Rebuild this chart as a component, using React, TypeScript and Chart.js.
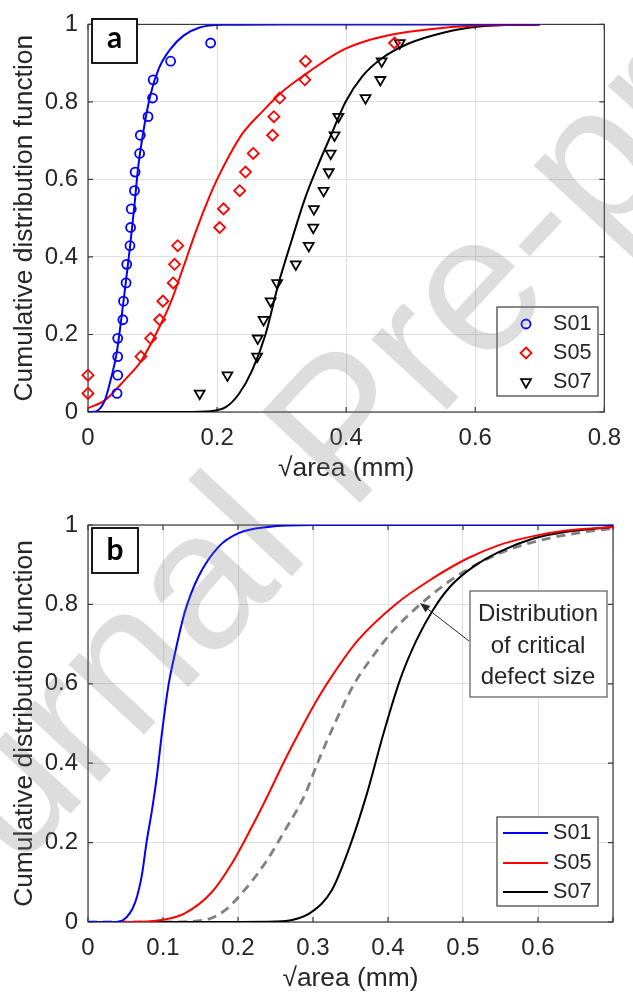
import React, { useEffect, useRef } from 'react';
import { Chart, registerables } from 'chart.js';

Chart.register(...registerables);

const FONT = '"Liberation Sans", Arial, Helvetica, sans-serif';
const TEXT = '#262626';
const GRID = '#dedede';
const FRAME = '#3a3a3a';

// ---------- Panel a : empirical points (plotting positions) ----------
const RANK_Y = [0.048, 0.095, 0.143, 0.19, 0.238, 0.286, 0.333, 0.381, 0.429, 0.476, 0.524, 0.571, 0.619, 0.667, 0.714, 0.762, 0.81, 0.857, 0.905, 0.952];
const S01_PTS_X = [0.045, 0.046, 0.046, 0.046, 0.054, 0.055, 0.059, 0.06, 0.065, 0.066, 0.067, 0.072, 0.073, 0.08, 0.081, 0.093, 0.1, 0.101, 0.128, 0.19];
const S05_PTS_X = [0.0, 0.0, 0.082, 0.097, 0.111, 0.116, 0.132, 0.134, 0.139, 0.204, 0.21, 0.235, 0.244, 0.256, 0.286, 0.288, 0.297, 0.336, 0.337, 0.475];
const S07_PTS_X = [0.173, 0.216, 0.262, 0.263, 0.272, 0.283, 0.293, 0.322, 0.342, 0.349, 0.35, 0.365, 0.373, 0.376, 0.382, 0.388, 0.43, 0.453, 0.455, 0.483];

// ---------- Panel a : fitted curves ----------
const A_S01_X = [0, 0.011, 0.026, 0.036, 0.044, 0.051, 0.059, 0.065, 0.072, 0.078, 0.087, 0.097, 0.11, 0.128, 0.148, 0.173, 0.209, 0.3, 0.5, 0.7];
const A_S01_Y = [0, 0.001, 0.03, 0.089, 0.148, 0.232, 0.341, 0.425, 0.534, 0.635, 0.736, 0.82, 0.887, 0.937, 0.971, 0.992, 0.999, 1, 1, 1];
const A_S05_X = [0, 0.026, 0.056, 0.082, 0.107, 0.128, 0.148, 0.168, 0.188, 0.2, 0.22, 0.24, 0.27, 0.3, 0.34, 0.39, 0.425, 0.475, 0.526, 0.602, 0.7];
const A_S05_Y = [0.01, 0.03, 0.081, 0.131, 0.207, 0.282, 0.375, 0.47, 0.555, 0.6, 0.665, 0.72, 0.775, 0.825, 0.875, 0.93, 0.954, 0.975, 0.987, 0.997, 1];
const A_S07_X = [0, 0.15, 0.19, 0.214, 0.234, 0.254, 0.275, 0.295, 0.315, 0.336, 0.356, 0.378, 0.399, 0.425, 0.455, 0.496, 0.552, 0.602, 0.7];
const A_S07_Y = [0, 0, 0.002, 0.013, 0.047, 0.106, 0.2, 0.33, 0.44, 0.55, 0.635, 0.72, 0.8, 0.866, 0.912, 0.95, 0.979, 0.994, 1];

// ---------- Panel b : curves ----------
const B_S01_X = [0, 0.035, 0.047, 0.063, 0.072, 0.078, 0.086, 0.092, 0.098, 0.107, 0.116, 0.129, 0.147, 0.174, 0.2, 0.24, 0.3, 0.7];
const B_S01_Y = [0, 0, 0.005, 0.05, 0.12, 0.2, 0.29, 0.37, 0.467, 0.593, 0.677, 0.78, 0.869, 0.945, 0.979, 0.995, 1, 1];
const B_S05_X = [0, 0.06, 0.098, 0.129, 0.165, 0.192, 0.218, 0.24, 0.263, 0.285, 0.307, 0.329, 0.36, 0.41, 0.46, 0.505, 0.549, 0.594, 0.638, 0.7];
const B_S05_Y = [0, 0, 0.005, 0.022, 0.075, 0.148, 0.238, 0.32, 0.41, 0.49, 0.565, 0.63, 0.71, 0.8, 0.866, 0.915, 0.95, 0.972, 0.986, 0.995];
const B_S07_X = [0, 0.2, 0.25, 0.272, 0.298, 0.325, 0.349, 0.372, 0.394, 0.416, 0.438, 0.46, 0.483, 0.514, 0.549, 0.594, 0.638, 0.7];
const B_S07_Y = [0, 0, 0.001, 0.005, 0.025, 0.08, 0.19, 0.324, 0.475, 0.61, 0.71, 0.786, 0.845, 0.895, 0.933, 0.966, 0.983, 0.995];
const B_CRIT_X = [0, 0.1, 0.156, 0.183, 0.209, 0.236, 0.263, 0.289, 0.307, 0.329, 0.355, 0.38, 0.405, 0.443, 0.483, 0.527, 0.572, 0.616, 0.66, 0.7];
const B_CRIT_Y = [0, 0, 0.005, 0.03, 0.081, 0.148, 0.232, 0.32, 0.405, 0.5, 0.6, 0.67, 0.73, 0.8, 0.86, 0.91, 0.945, 0.967, 0.982, 0.991];

const SERIES_NAMES = ['S01', 'S05', 'S07'];
const SERIES_COLORS = ['#0000ff', '#ff0000', '#000000'];
const X_TITLE = '√area (mm)';
const Y_TITLE = 'Cumulative distribution function';
const ANNOTATION_LINES = ['Distribution', 'of critical', 'defect size'];
const WATERMARK = 'Journal Pre-proof';

const pairs = (xs: number[], ys: number[]) => xs.map((x, i) => ({ x, y: ys[i] }));
const fmt = (v: number) => String(Math.round(v * 10) / 10);

function makeScales(xMax: number, xStep: number, xHeight: number, xTitleBottom: number, hideLast: boolean) {
  return {
    x: {
      type: 'linear',
      min: 0,
      max: xMax,
      afterFit: (s: any) => { s.height = xHeight; },
      ticks: {
        stepSize: xStep,
        autoSkip: false,
        maxRotation: 0,
        padding: 12,
        color: TEXT,
        font: { family: FONT, size: 24 },
        callback: (v: number) => (hideLast && v > xMax - 1e-6 ? '' : fmt(v)),
      },
      grid: { color: GRID, lineWidth: 1, drawTicks: false },
      border: { display: false },
      title: { display: true, text: X_TITLE, color: TEXT, font: { family: FONT, size: 26.4 }, padding: { top: 0, bottom: xTitleBottom } },
    },
    y: {
      type: 'linear',
      min: 0,
      max: 1,
      afterFit: (s: any) => { s.width = 88; },
      ticks: { stepSize: 0.2, padding: 10, color: TEXT, font: { family: FONT, size: 24 }, callback: (v: number) => fmt(v) },
      grid: { color: GRID, lineWidth: 1, drawTicks: false },
      border: { display: false },
      title: { display: true, text: Y_TITLE, color: TEXT, font: { family: FONT, size: 26.4 }, padding: { top: 8.4, bottom: 0 } },
    },
  };
}

const framePlugin = {
  id: 'frame',
  beforeDatasetsDraw(chart: any) {
    const { ctx, chartArea: ca, scales } = chart;
    const x = scales.x, y = scales.y;
    const tl = 5;
    ctx.save();
    ctx.strokeStyle = FRAME;
    ctx.lineWidth = 1.2;
    ctx.beginPath();
    x.ticks.forEach((t: any) => {
      const p = x.getPixelForValue(t.value);
      ctx.moveTo(p, ca.bottom); ctx.lineTo(p, ca.bottom - tl);
      ctx.moveTo(p, ca.top); ctx.lineTo(p, ca.top + tl);
    });
    y.ticks.forEach((t: any) => {
      const p = y.getPixelForValue(t.value);
      ctx.moveTo(ca.left, p); ctx.lineTo(ca.left + tl, p);
      ctx.moveTo(ca.right, p); ctx.lineTo(ca.right - tl, p);
    });
    ctx.stroke();
    ctx.strokeRect(ca.left, ca.top, ca.right - ca.left, ca.bottom - ca.top);
    ctx.restore();
  },
};

function drawMarker(ctx: CanvasRenderingContext2D, style: string, x: number, y: number, color: string) {
  ctx.save();
  ctx.strokeStyle = color;
  ctx.lineWidth = 1.8;
  ctx.beginPath();
  if (style === 'circle') {
    ctx.arc(x, y, 4.5, 0, Math.PI * 2);
  } else if (style === 'diamond') {
    ctx.moveTo(x, y - 5.5); ctx.lineTo(x + 5.5, y); ctx.lineTo(x, y + 5.5); ctx.lineTo(x - 5.5, y); ctx.closePath();
  } else {
    const r = 5.7;
    ctx.moveTo(x, y + r); ctx.lineTo(x + r * 0.866, y - r / 2); ctx.lineTo(x - r * 0.866, y - r / 2); ctx.closePath();
  }
  ctx.stroke();
  ctx.restore();
}

function makeOverlay(opts: any) {
  return {
    id: 'overlay',
    afterDraw(chart: any) {
      const ctx: CanvasRenderingContext2D = chart.ctx;
      ctx.save();
      // panel letter
      const lb = opts.letterBox;
      ctx.fillStyle = '#fff';
      ctx.fillRect(lb[0], lb[1], lb[2], lb[3]);
      ctx.strokeStyle = '#000';
      ctx.lineWidth = 1.8;
      ctx.strokeRect(lb[0], lb[1], lb[2], lb[3]);
      ctx.fillStyle = '#000';
      ctx.font = `bold 30px Lato, "Open Sans", ${FONT}`;
      ctx.textAlign = 'center';
      ctx.textBaseline = 'alphabetic';
      ctx.fillText(opts.letter, lb[0] + lb[2] / 2, opts.letterBaseline);

      // legend
      const L = opts.legend;
      ctx.fillStyle = '#fff';
      ctx.fillRect(L.x, L.y, L.w, L.h);
      ctx.strokeStyle = FRAME;
      ctx.lineWidth = 1.2;
      ctx.strokeRect(L.x, L.y, L.w, L.h);
      SERIES_NAMES.forEach((name, i) => {
        const cy = L.rows[i];
        if (opts.legendKind === 'marker') {
          drawMarker(ctx, ['circle', 'diamond', 'triangle'][i], 526, cy, SERIES_COLORS[i]);
        } else {
          ctx.strokeStyle = SERIES_COLORS[i];
          ctx.lineWidth = 2;
          ctx.beginPath(); ctx.moveTo(503, cy); ctx.lineTo(548, cy); ctx.stroke();
        }
        ctx.fillStyle = TEXT;
        ctx.font = `21.6px ${FONT}`;
        ctx.textAlign = 'left';
        ctx.textBaseline = 'middle';
        ctx.fillText(name, 553, cy);
      });

      // annotation (panel b)
      if (opts.annotation) {
        const A = opts.annotation;
        ctx.strokeStyle = TEXT;
        ctx.fillStyle = TEXT;
        ctx.lineWidth = 1;
        const ang = Math.atan2(A.tip[1] - A.tail[1], A.tip[0] - A.tail[0]);
        const hl = 10, hw = 4;
        const bx = A.tip[0] - hl * Math.cos(ang), by = A.tip[1] - hl * Math.sin(ang);
        ctx.beginPath(); ctx.moveTo(A.tail[0], A.tail[1]); ctx.lineTo(bx, by); ctx.stroke();
        ctx.beginPath();
        ctx.moveTo(A.tip[0], A.tip[1]);
        ctx.lineTo(bx + hw * Math.sin(ang), by - hw * Math.cos(ang));
        ctx.lineTo(bx - hw * Math.sin(ang), by + hw * Math.cos(ang));
        ctx.closePath(); ctx.fill();
        ctx.fillStyle = '#fff';
        ctx.fillRect(A.box[0], A.box[1], A.box[2], A.box[3]);
        ctx.strokeStyle = '#5a5a5a';
        ctx.lineWidth = 1.2;
        ctx.strokeRect(A.box[0], A.box[1], A.box[2], A.box[3]);
        ctx.fillStyle = TEXT;
        ctx.font = `24px ${FONT}`;
        ctx.textAlign = 'center';
        ctx.textBaseline = 'alphabetic';
        ANNOTATION_LINES.forEach((t, i) => ctx.fillText(t, A.textX, A.baselines[i]));
      }

      // watermark (spans both panels, global page coordinates)
      ctx.translate(0, -opts.pageOffset);
      ctx.translate(-124, 1022);
      ctx.rotate((-47 * Math.PI) / 180);
      ctx.font = `195px ${FONT}`;
      ctx.fillStyle = 'rgba(120,120,120,0.25)';
      ctx.textAlign = 'left';
      ctx.textBaseline = 'alphabetic';
      ctx.fillText(WATERMARK, 0, 0);
      ctx.restore();
    },
  };
}

function curve(xs: number[], ys: number[], color: string, width = 2, dash: number[] = []) {
  return {
    data: pairs(xs, ys),
    showLine: true,
    borderColor: color,
    borderWidth: width,
    borderDash: dash,
    pointRadius: 0,
    fill: false,
    cubicInterpolationMode: 'monotone',
  };
}

function markers(xs: number[], color: string, style: string, radius: number, rotation = 0) {
  return {
    data: pairs(xs, RANK_Y),
    showLine: false,
    pointStyle: style,
    pointRadius: radius,
    pointRotation: rotation,
    pointBorderColor: color,
    pointBackgroundColor: 'rgba(0,0,0,0)',
    pointBorderWidth: 1.8,
    clip: false,
  };
}

function buildA(): any {
  return {
    type: 'scatter',
    data: {
      datasets: [
        markers(S01_PTS_X, SERIES_COLORS[0], 'circle', 4.5),
        markers(S05_PTS_X, SERIES_COLORS[1], 'rectRot', 5.5),
        markers(S07_PTS_X, SERIES_COLORS[2], 'triangle', 5.7, 180),
        curve(A_S01_X, A_S01_Y, SERIES_COLORS[0]),
        curve(A_S05_X, A_S05_Y, SERIES_COLORS[1]),
        curve(A_S07_X, A_S07_Y, SERIES_COLORS[2]),
      ],
    },
    options: {
      animation: false,
      responsive: false,
      events: [],
      layout: { padding: { left: 0, right: 20, top: 15, bottom: 0 } },
      plugins: { legend: { display: false }, tooltip: { enabled: false } },
      scales: makeScales(0.8, 0.2, 87, 14.8, false),
    },
    plugins: [
      framePlugin,
      makeOverlay({
        letter: 'a',
        letterBox: [92, 19, 45, 44],
        letterBaseline: 48,
        legendKind: 'marker',
        legend: { x: 497, y: 307, w: 101, h: 89, rows: [324, 353, 382] },
        pageOffset: 0,
      }),
    ],
  };
}

function buildB(): any {
  return {
    type: 'scatter',
    data: {
      datasets: [
        curve(B_S01_X, B_S01_Y, SERIES_COLORS[0]),
        curve(B_S05_X, B_S05_Y, SERIES_COLORS[1]),
        curve(B_S07_X, B_S07_Y, SERIES_COLORS[2]),
        curve(B_CRIT_X, B_CRIT_Y, '#808080', 2.8, [9, 6]),
      ],
    },
    options: {
      animation: false,
      responsive: false,
      events: [],
      layout: { padding: { left: 0, right: 20, top: 26, bottom: 0 } },
      plugins: { legend: { display: false }, tooltip: { enabled: false } },
      scales: makeScales(0.7, 0.1, 76, 3.8, true),
    },
    plugins: [
      framePlugin,
      makeOverlay({
        letter: 'b',
        letterBox: [92, 29, 46, 45],
        letterBaseline: 61,
        legendKind: 'line',
        legend: { x: 497, y: 318, w: 101, h: 89, rows: [334, 364, 393] },
        annotation: {
          box: [470, 92, 137, 106],
          textX: 538,
          baselines: [121.5, 153.5, 184.5],
          tail: [469, 142],
          tip: [420, 104],
        },
        pageOffset: 499,
      }),
    ],
  };
}

export default function App() {
  const refA = useRef<HTMLCanvasElement>(null);
  const refB = useRef<HTMLCanvasElement>(null);
  useEffect(() => {
    const a = new Chart(refA.current as HTMLCanvasElement, buildA());
    const b = new Chart(refB.current as HTMLCanvasElement, buildB());
    return () => {
      a.destroy();
      b.destroy();
    };
  }, []);
  return (
    <div style={{ position: 'absolute', left: 0, top: 0, width: 633, height: 998, background: '#fff', overflow: 'hidden' }}>
      <canvas ref={refA} width={633} height={499} style={{ display: 'block', width: 633, height: 499 }} />
      <canvas ref={refB} width={633} height={499} style={{ display: 'block', width: 633, height: 499 }} />
    </div>
  );
}
